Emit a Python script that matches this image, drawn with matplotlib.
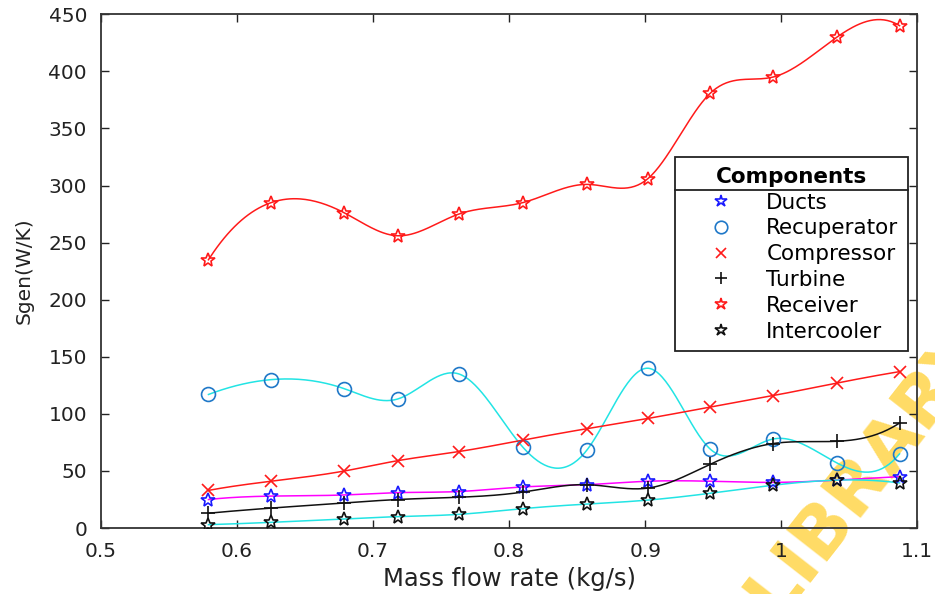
import numpy as np
import matplotlib
matplotlib.use('Agg')
import matplotlib.pyplot as plt
from matplotlib.lines import Line2D

plt.rcParams['font.family'] = ['DejaVu Sans']

# entropy generation per component vs mass flow rate
massFlow = [0.579, 0.625, 0.679, 0.718, 0.763, 0.810, 0.857, 0.902, 0.948, 0.994, 1.041, 1.087]
ducts = [25, 28, 29, 31, 32, 36, 38, 41, 41, 40, 42, 45]
recuperator = [117, 130, 122, 113, 135, 71, 68, 140, 69, 78, 57, 65]
compressor = [33, 41, 50, 59, 67, 77, 87, 96, 106, 116, 127, 137]
turbine = [13, 17.5, 22, 25, 27, 31.5, 38, 35, 56, 74, 76, 92]
receiver = [235, 285, 276, 256, 275, 285, 301, 306, 381, 395, 430, 440]
intercooler = [3, 5, 8, 10, 12, 17, 21, 24.5, 30.5, 37.5, 42, 39.5]

xTicks = [0.5, 0.6, 0.7, 0.8, 0.9, 1, 1.1]
xTickLabels = ['0.5', '0.6', '0.7', '0.8', '0.9', '1', '1.1']
yTicks = [0, 50, 100, 150, 200, 250, 300, 350, 400, 450]


def spline_curve(x, y, n=400):
    # cubic spline with not-a-knot ends
    x = np.asarray(x, float)
    y = np.asarray(y, float)
    k = len(x)
    h = np.diff(x)
    A = np.zeros((k, k))
    b = np.zeros(k)
    A[0, :3] = [h[1], -(h[0] + h[1]), h[0]]
    A[-1, -3:] = [h[-1], -(h[-2] + h[-1]), h[-2]]
    for i in range(1, k - 1):
        A[i, i - 1:i + 2] = [h[i - 1], 2 * (h[i - 1] + h[i]), h[i]]
        b[i] = 6 * ((y[i + 1] - y[i]) / h[i] - (y[i] - y[i - 1]) / h[i - 1])
    M = np.linalg.solve(A, b)
    xs = np.linspace(x[0], x[-1], n)
    idx = np.clip(np.searchsorted(x, xs) - 1, 0, k - 2)
    x0, x1 = x[idx], x[idx + 1]
    hh = h[idx]
    ys = (M[idx] * (x1 - xs) ** 3 / (6 * hh) + M[idx + 1] * (xs - x0) ** 3 / (6 * hh)
          + (y[idx] / hh - M[idx] * hh / 6) * (x1 - xs)
          + (y[idx + 1] / hh - M[idx + 1] * hh / 6) * (xs - x0))
    return xs, ys


fig = plt.figure(figsize=(9.35, 5.94), dpi=100)
ax = fig.add_axes([0.108, 0.111, 0.873, 0.865])

# name, data, line colour, marker, marker colour, marker size
series = [
    ('Ducts', ducts, '#ff00ff', '*', '#1a1aff', 10),
    ('Recuperator', recuperator, '#22e4e4', 'o', '#1f78c8', 10),
    ('Compressor', compressor, '#ff1a1a', 'x', '#ff1a1a', 8),
    ('Turbine', turbine, '#111111', '+', '#111111', 10),
    ('Receiver', receiver, '#ff1a1a', '*', '#ff1a1a', 10),
    ('Intercooler', intercooler, '#22e4e4', '*', '#111111', 10),
]

handles = []
for name, vals, lc, mk, mc, ms in series:
    xs, ys = spline_curve(massFlow, vals)
    ax.plot(xs, ys, color=lc, linewidth=1.1, zorder=2)
    ax.plot(massFlow, vals, linestyle='none', marker=mk, markersize=ms,
            markerfacecolor='none', markeredgecolor=mc, markeredgewidth=1.2, zorder=3)
    handles.append(Line2D([], [], linestyle='none', marker=mk, markersize=ms - 1,
                          markerfacecolor='none', markeredgecolor=mc, markeredgewidth=1.2))

ax.set_xlim(0.5, 1.1)
ax.set_ylim(0, 450)
ax.set_xticks(xTicks)
ax.set_xticklabels(xTickLabels)
ax.set_yticks(yTicks)
ax.tick_params(direction='in', length=6, width=1, top=True, right=True,
               labelsize=14.5, pad=10, colors='#222222')
for sp in ax.spines.values():
    sp.set_color('#333333')
    sp.set_linewidth(1.3)

ax.set_xlabel('Mass flow rate (kg/s)', fontsize=17.5, labelpad=4, color='#222222')
ax.set_ylabel('Sgen(W/K)', fontsize=14.5, labelpad=11, color='#222222')

leg = ax.legend(handles, [s[0] for s in series], title='Components',
                loc='upper right', bbox_to_anchor=(0.989, 0.722), borderaxespad=0,
                fancybox=False, edgecolor='#222222', framealpha=1, fontsize=15.5,
                title_fontproperties={'weight': 'bold', 'size': 15.5},
                handlelength=3.38, handletextpad=0.42, labelspacing=0.27, borderpad=0.45)
leg.get_frame().set_linewidth(1.3)
leg.set_zorder(5)

# watermark across the lower right corner
ax.text(0.786, -0.145, 'L LIBRARY', transform=fig.transFigure, rotation=52,
        rotation_mode='anchor', ha='left', va='baseline', fontsize=52,
        fontweight='bold', color='#ffd54a', alpha=0.85, zorder=1, clip_on=False)

# rule under the legend title
fig.canvas.draw()
frame_bb = leg.get_frame().get_window_extent()
title_bb = leg.get_title().get_window_extent()
first_bb = leg.get_texts()[0].get_window_extent()
inv = fig.transFigure.inverted()
y_line = (title_bb.y0 + first_bb.y1) / 2
p0 = inv.transform((frame_bb.x0, y_line))
p1 = inv.transform((frame_bb.x1, y_line))
fig.add_artist(Line2D([p0[0], p1[0]], [p0[1], p1[1]], color='#222222',
                      linewidth=1.3, transform=fig.transFigure, zorder=6))

fig.savefig('out.png', dpi=100)
